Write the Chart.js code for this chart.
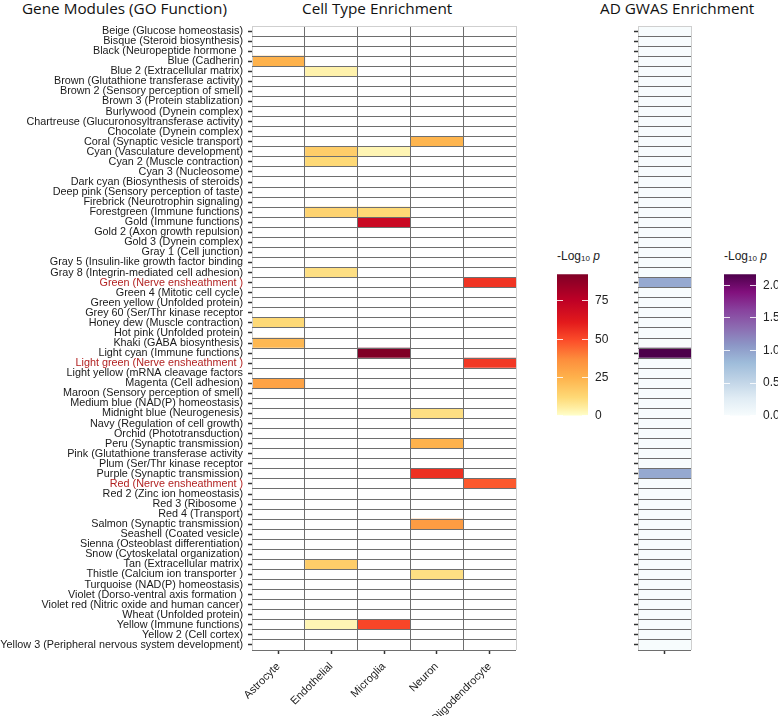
<!DOCTYPE html>
<html>
<head>
<meta charset="utf-8">
<script src="https://cdn.jsdelivr.net/npm/chart.js@4.4.1/dist/chart.umd.min.js"></script>
<style>
  html, body { margin: 0; padding: 0; background: #fff; }
  #wrap { position: relative; width: 778px; height: 716px; overflow: hidden; }
  canvas { position: absolute; }
  .ttl { position: absolute; top: -2px; font-family: 'Open Sans', sans-serif; font-size: 15.3px; color: #111; white-space: nowrap; line-height: 20px; }
  .leg { position: absolute; top: 249px; font-family: 'Liberation Sans', Arial, sans-serif; font-size: 12px; color: #222; white-space: nowrap; }
  .leg sub { font-size: 8px; vertical-align: -1px; }
</style>
</head>
<body>
<div id="wrap">
  <div class="ttl" style="left:22px">Gene Modules (GO Function)</div>
  <div class="ttl" style="left:302px">Cell Type Enrichment</div>
  <div class="ttl" style="left:600px">AD GWAS Enrichment</div>
  <div class="leg" style="left:557px">-Log<sub>10</sub> <i>p</i></div>
  <div class="leg" style="left:724px">-Log<sub>10</sub> <i>p</i></div>
  <canvas id="heat" width="530" height="716" style="left:0;top:0"></canvas>
  <canvas id="gwas" width="70" height="716" style="left:630px;top:0"></canvas>
  <canvas id="cbCell" width="60" height="170" style="left:557px;top:260px"></canvas>
  <canvas id="cbGwas" width="54" height="170" style="left:724px;top:260px"></canvas>
</div>
<script>
// Filas (módulos de genes) de arriba a abajo
const modules = [
  'Beige (Glucose homeostasis)', 'Bisque (Steroid biosynthesis)', 'Black (Neuropeptide hormone )',
  'Blue (Cadherin)', 'Blue 2 (Extracellular matrix)', 'Brown (Glutathione transferase activity)',
  'Brown 2 (Sensory perception of smell)', 'Brown 3 (Protein stablization)', 'Burlywood (Dynein complex)',
  'Chartreuse (Glucuronosyltransferase activity)', 'Chocolate (Dynein complex)', 'Coral (Synaptic vesicle transport)',
  'Cyan (Vasculature development)', 'Cyan 2 (Muscle contraction)', 'Cyan 3 (Nucleosome)',
  'Dark cyan (Biosynthesis of steroids)', 'Deep pink (Sensory perception of taste)', 'Firebrick (Neurotrophin signaling)',
  'Forestgreen (Immune functions)', 'Gold (Immune functions)', 'Gold 2 (Axon growth repulsion)',
  'Gold 3 (Dynein complex)', 'Gray 1 (Cell junction)', 'Gray 5 (Insulin-like growth factor binding',
  'Gray 8 (Integrin-mediated cell adhesion)', 'Green (Nerve ensheathment )', 'Green 4 (Mitotic cell cycle)',
  'Green yellow (Unfolded protein)', 'Grey 60 (Ser/Thr kinase receptor', 'Honey dew (Muscle contraction)',
  'Hot pink (Unfolded protein)', 'Khaki (GABA biosynthesis)', 'Light cyan (Immune functions)',
  'Light green (Nerve ensheathment )', 'Light yellow (mRNA cleavage factors', 'Magenta (Cell adhesion)',
  'Maroon (Sensory perception of smell)', 'Medium blue (NAD(P) homeostasis)', 'Midnight blue (Neurogenesis)',
  'Navy (Regulation of cell growth)', 'Orchid (Phototransduction)', 'Peru (Synaptic transmission)',
  'Pink (Glutathione transferase activity', 'Plum (Ser/Thr kinase receptor', 'Purple (Synaptic transmission)',
  'Red (Nerve ensheathment )', 'Red 2 (Zinc ion homeostasis)', 'Red 3 (Ribosome )',
  'Red 4 (Transport)', 'Salmon (Synaptic transmission)', 'Seashell (Coated vesicle)',
  'Sienna (Osteoblast differentiation)', 'Snow (Cytoskelatal organization)', 'Tan (Extracellular matrix)',
  'Thistle (Calcium ion transporter )', 'Turquoise (NAD(P) homeostasis)', 'Violet (Dorso-ventral axis formation )',
  'Violet red (Nitric oxide and human cancer)', 'Wheat (Unfolded protein)', 'Yellow (Immune functions)',
  'Yellow 2 (Cell cortex)', 'Yellow 3 (Peripheral nervous system development)'
];

// Etiquetas resaltadas en rojo
const highlighted = ['Green (Nerve ensheathment )', 'Light green (Nerve ensheathment )', 'Red (Nerve ensheathment )'];

const cellTypes = ['Astrocyte', 'Endothelial', 'Microglia', 'Neuron', 'Oligodendrocyte'];

// -log10 p por tipo celular (0 = sin enriquecimiento, celda vacía)
const astrocyte = [
  0, 0, 0, 25, 0, 0, 0, 0, 0, 0,
  0, 0, 0, 0, 0, 0, 0, 0, 0, 0,
  0, 0, 0, 0, 0, 0, 0, 0, 0, 12,
  0, 23, 0, 0, 0, 30, 0, 0, 0, 0,
  0, 0, 0, 0, 0, 0, 0, 0, 0, 0,
  0, 0, 0, 0, 0, 0, 0, 0, 0, 0,
  0, 0
];
const endothelial = [
  0, 0, 0, 0, 4, 0, 0, 0, 0, 0,
  0, 0, 16, 12, 0, 0, 0, 0, 14, 0,
  0, 0, 0, 0, 10, 0, 0, 0, 0, 0,
  0, 0, 0, 0, 0, 0, 0, 0, 0, 0,
  0, 0, 0, 0, 0, 0, 0, 0, 0, 0,
  0, 0, 0, 16, 0, 0, 0, 0, 0, 3,
  0, 0
];
const microglia = [
  0, 0, 0, 0, 0, 0, 0, 0, 0, 0,
  0, 0, 3, 0, 0, 0, 0, 0, 12, 71,
  0, 0, 0, 0, 0, 0, 0, 0, 0, 0,
  0, 0, 92.5, 0, 0, 0, 0, 0, 0, 0,
  0, 0, 0, 0, 0, 0, 0, 0, 0, 0,
  0, 0, 0, 0, 0, 0, 0, 0, 0, 51,
  0, 0
];
const neuron = [
  0, 0, 0, 0, 0, 0, 0, 0, 0, 0,
  0, 24, 0, 0, 0, 0, 0, 0, 0, 0,
  0, 0, 0, 0, 0, 0, 0, 0, 0, 0,
  0, 0, 0, 0, 0, 0, 0, 0, 10, 0,
  0, 25, 0, 0, 56, 0, 0, 0, 0, 32,
  0, 0, 0, 0, 10, 0, 0, 0, 0, 0,
  0, 0
];
const oligodendrocyte = [
  0, 0, 0, 0, 0, 0, 0, 0, 0, 0,
  0, 0, 0, 0, 0, 0, 0, 0, 0, 0,
  0, 0, 0, 0, 0, 55, 0, 0, 0, 0,
  0, 0, 0, 54, 0, 0, 0, 0, 0, 0,
  0, 0, 0, 0, 0, 47, 0, 0, 0, 0,
  0, 0, 0, 0, 0, 0, 0, 0, 0, 0,
  0, 0
];

// -log10 p del enriquecimiento GWAS de AD
const gwasValues = [
  0, 0, 0, 0, 0, 0, 0, 0, 0, 0,
  0, 0, 0, 0, 0, 0, 0, 0, 0, 0,
  0, 0, 0, 0, 0, 0.95, 0, 0, 0, 0,
  0, 0, 2.17, 0, 0, 0, 0, 0, 0, 0,
  0, 0, 0, 0, 0.95, 0, 0, 0, 0, 0,
  0, 0, 0, 0, 0, 0, 0, 0, 0, 0,
  0, 0
];

const cellMax = 92.5;
const gwasMax = 2.17;
const cellLegendTicks = [0, 25, 50, 75];
const gwasLegendTicks = [0, 0.5, 1, 1.5, 2];

// Paletas: colores y posición relativa de cada parada
const ylOrRd = {
  colors: ['#ffffcc', '#ffeda0', '#fed976', '#feb24c', '#fd8d3c', '#fc4e2a', '#e31a1c', '#bd0026', '#800026'],
  stops: [0, 0.06, 0.13, 0.27, 0.40, 0.53, 0.66, 0.82, 1]
};
const buPu = {
  colors: ['#f7fcfd', '#e0ecf4', '#bfd3e6', '#9ebcda', '#8c96c6', '#8c6bb1', '#88419d', '#810f7c', '#4d004b'],
  stops: [0, 0.125, 0.25, 0.375, 0.5, 0.625, 0.75, 0.875, 1]
};

function hexToRgb(h) {
  return [parseInt(h.slice(1, 3), 16), parseInt(h.slice(3, 5), 16), parseInt(h.slice(5, 7), 16)];
}

function colorAt(pal, t) {
  t = Math.max(0, Math.min(1, t));
  let i = 0;
  while (i < pal.stops.length - 2 && t > pal.stops[i + 1]) i++;
  const f = (t - pal.stops[i]) / (pal.stops[i + 1] - pal.stops[i]);
  const a = hexToRgb(pal.colors[i]);
  const b = hexToRgb(pal.colors[i + 1]);
  const c = a.map((v, k) => Math.round(v + (b[k] - v) * f));
  return `rgb(${c[0]}, ${c[1]}, ${c[2]})`;
}

const tickFont = { family: "'Liberation Sans', Arial, sans-serif", size: 10.8 };
const lineColor = '#6e6e6e';
const edgeColor = '#cfcfcf';

// Ticks del eje x: bordes de columna (enteros) y centros (x.5)
function columnTicks(n) {
  const t = [];
  for (let i = 0; i <= 2 * n; i++) t.push({ value: i / 2 });
  return t;
}

function isCenter(v) {
  return Math.abs(v - Math.floor(v) - 0.5) < 1e-6;
}

// Fija la altura del eje x sin relleno lateral extra
function fitBottomAxis(s) {
  s.height = 66;
  s.paddingLeft = 0;
  s.paddingRight = 0;
}

// ---------- Heatmap de tipos celulares ----------
const cellSeries = [astrocyte, endothelial, microglia, neuron, oligodendrocyte];

new Chart(document.getElementById('heat'), {
  type: 'bar',
  data: {
    labels: modules,
    datasets: cellSeries.map((vals, c) => ({
      label: cellTypes[c],
      data: vals.map(() => 1),
      backgroundColor: vals.map(v => v > 0 ? colorAt(ylOrRd, v / cellMax) : '#ffffff'),
      borderWidth: 0,
      barPercentage: 1,
      categoryPercentage: 1
    }))
  },
  options: {
    indexAxis: 'y',
    responsive: false,
    animation: false,
    devicePixelRatio: 1,
    layout: { padding: { top: 26, right: 14, left: 0, bottom: 0 } },
    plugins: { legend: { display: false }, tooltip: { enabled: false } },
    scales: {
      x: {
        type: 'linear',
        stacked: true,
        min: 0,
        max: cellTypes.length,
        afterBuildTicks: s => { s.ticks = columnTicks(cellTypes.length); },
        afterFit: fitBottomAxis,
        grid: {
          z: 1,
          color: ctx => {
            const v = ctx.tick ? ctx.tick.value : 0;
            if (isCenter(v)) return 'rgba(0,0,0,0)';
            return (v === 0 || v === cellTypes.length) ? edgeColor : lineColor;
          },
          tickColor: ctx => (ctx.tick && isCenter(ctx.tick.value)) ? '#333' : 'rgba(0,0,0,0)',
          tickLength: 4,
          tickWidth: 1.5
        },
        border: { display: false },
        ticks: {
          autoSkip: false,
          minRotation: 45,
          maxRotation: 45,
          padding: 6,
          font: { family: "'Liberation Sans', Arial, sans-serif", size: 11 },
          color: '#222',
          callback: v => isCenter(v) ? cellTypes[Math.floor(v)] : ''
        }
      },
      y: {
        type: 'category',
        stacked: true,
        afterFit: s => { s.width = 252; },
        grid: { offset: false, drawOnChartArea: false, tickLength: 4, tickColor: '#333', tickWidth: 1.5 },
        border: { display: false },
        ticks: {
          autoSkip: false,
          padding: 5,
          font: tickFont,
          color: ctx => highlighted.includes(modules[ctx.index]) ? '#b22222' : '#1a1a1a'
        }
      },
      yLines: {
        type: 'category',
        labels: modules,
        position: 'right',
        offset: true,
        afterFit: s => { s.width = 0; },
        grid: {
          offset: true,
          drawTicks: false,
          z: 1,
          color: ctx => (ctx.index === 0 || ctx.index === modules.length) ? edgeColor : lineColor
        },
        border: { display: false },
        ticks: { display: false }
      }
    }
  }
});

// ---------- Columna de enriquecimiento GWAS ----------
new Chart(document.getElementById('gwas'), {
  type: 'bar',
  data: {
    labels: modules,
    datasets: [{
      label: 'AD GWAS',
      data: gwasValues.map(() => 1),
      backgroundColor: gwasValues.map(v => colorAt(buPu, v / gwasMax)),
      borderWidth: 0,
      barPercentage: 1,
      categoryPercentage: 1
    }]
  },
  options: {
    indexAxis: 'y',
    responsive: false,
    animation: false,
    devicePixelRatio: 1,
    layout: { padding: { top: 26, right: 9, left: 0, bottom: 0 } },
    plugins: { legend: { display: false }, tooltip: { enabled: false } },
    scales: {
      x: {
        type: 'linear',
        min: 0,
        max: 1,
        afterBuildTicks: s => { s.ticks = columnTicks(1); },
        afterFit: fitBottomAxis,
        grid: {
          z: 1,
          color: ctx => (ctx.tick && isCenter(ctx.tick.value)) ? 'rgba(0,0,0,0)' : edgeColor,
          tickColor: ctx => (ctx.tick && isCenter(ctx.tick.value)) ? '#333' : 'rgba(0,0,0,0)',
          tickLength: 4,
          tickWidth: 1.5
        },
        border: { display: false },
        ticks: { autoSkip: false, font: tickFont, callback: () => '' }
      },
      y: {
        type: 'category',
        afterFit: s => { s.width = 8; },
        grid: { offset: false, drawOnChartArea: false, tickLength: 4, tickColor: '#333', tickWidth: 1.5 },
        border: { display: false },
        ticks: { autoSkip: false, font: tickFont, callback: () => '' }
      },
      yLines: {
        type: 'category',
        labels: modules,
        position: 'right',
        offset: true,
        afterFit: s => { s.width = 0; },
        grid: {
          offset: true,
          drawTicks: false,
          z: 1,
          color: ctx => (ctx.index === 0 || ctx.index === modules.length) ? edgeColor : lineColor
        },
        border: { display: false },
        ticks: { display: false }
      }
    }
  }
});

// ---------- Barras de color (leyendas) ----------
function crearBarraColor(id, pal, max, ticks, width, decimals, axisWidth) {
  new Chart(document.getElementById(id), {
    type: 'bar',
    data: {
      labels: [''],
      datasets: [{
        data: [[0, max]],
        backgroundColor: ctx => {
          const chart = ctx.chart;
          const y = chart.scales.y;
          if (!chart.chartArea || !y) return pal.colors[0];
          const g = chart.ctx.createLinearGradient(0, y.getPixelForValue(0), 0, y.getPixelForValue(max));
          pal.colors.forEach((c, i) => g.addColorStop(pal.stops[i], c));
          return g;
        },
        borderWidth: 0,
        barPercentage: 1,
        categoryPercentage: 1
      }]
    },
    options: {
      responsive: false,
      animation: false,
      devicePixelRatio: 1,
      layout: { padding: { top: 9, bottom: 10, left: 0, right: 0 } },
      plugins: { legend: { display: false }, tooltip: { enabled: false } },
      scales: {
        x: { display: false },
        y: {
          position: 'right',
          min: 0,
          max: max,
          afterBuildTicks: s => { s.ticks = ticks.map(v => ({ value: v })); },
          afterFit: s => { s.width = axisWidth; },
          grid: { z: 1, color: 'rgba(255,255,255,0.85)', drawTicks: false, lineWidth: 1 },
          border: { display: false, dash: [6, width - 12] },
          ticks: {
            padding: 7,
            font: { family: "'Liberation Sans', Arial, sans-serif", size: 12 },
            color: '#222',
            callback: v => v.toFixed(decimals)
          }
        }
      }
    }
  });
}

crearBarraColor('cbCell', ylOrRd, cellMax, cellLegendTicks, 31, 0, 29);
crearBarraColor('cbGwas', buPu, gwasMax, gwasLegendTicks, 32, 1, 22);
</script>
</body>
</html>
